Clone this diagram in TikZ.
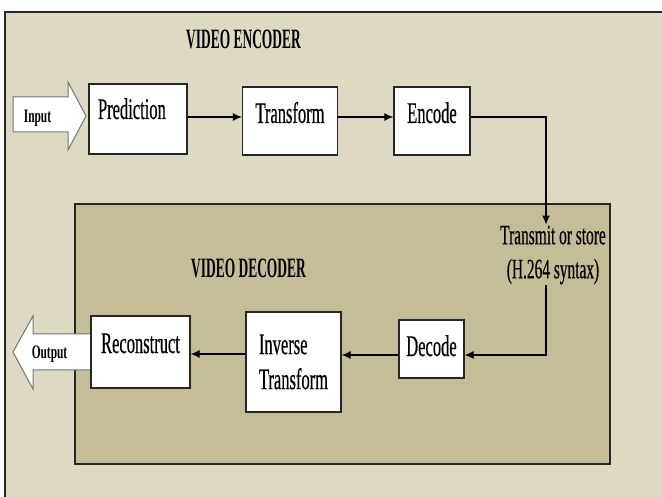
\documentclass[tikz,border=0pt]{standalone}
\usepackage{fontspec}
\setmainfont{Liberation Serif}
\newfontfamily\boxfont[FakeStretch=0.55,FakeBold=0.4]{Liberation Serif}
\newfontfamily\titlefont[FakeStretch=0.48]{Liberation Serif}
\newfontfamily\iofont[FakeStretch=0.6]{Liberation Serif}
\usetikzlibrary{arrows.meta}
\definecolor{outerbg}{HTML}{DDD9C3}
\definecolor{innerbg}{HTML}{C4BD97}
\begin{document}
\begin{tikzpicture}[x=1pt,y=-1pt,
  blk/.style={draw=black!85, line width=1.3pt, fill=white, inner sep=0pt,
    font=\boxfont\fontsize{30}{35}\selectfont},
  conn/.style={line width=1.2pt, -{Latex[length=9pt,width=8pt]}},
  titletext/.style={font=\titlefont\bfseries\fontsize{28}{32}\selectfont, inner sep=0pt},
  lbl/.style={font=\boxfont\fontsize{28}{34}\selectfont, align=center, inner sep=1pt},
  io/.style={font=\iofont\bfseries\fontsize{19}{22}\selectfont, inner sep=0pt},
  blockarrow/.style={draw=black!55, line width=1pt, fill=white, line join=miter},
  panel/.style={draw=black!85, line width=1.3pt}
]
\useasboundingbox (0,0) rectangle (662,497);
\fill[white] (0,0) rectangle (662,497);
\begin{scope}
  \clip (0,0) rectangle (662,497);
  \draw[panel, fill=outerbg] (5,12) rectangle (700,530);
\end{scope}
\draw[panel, fill=innerbg] (75,204) rectangle (610,464);

% titles
\node[titletext, anchor=base] (enct) at (243.5,49) {VIDEO ENCODER};
\node[titletext, anchor=base] (dect) at (248.5,278) {VIDEO DECODER};

% block arrows
\draw[blockarrow] (13,97) -- (68,97) -- (68,82) -- (86,116) -- (68,150) -- (68,132) -- (13,132) -- cycle;
\node[io, anchor=base] (inp) at (37.5,123) {Input};
\draw[blockarrow] (92,334) -- (33,334) -- (33,316) -- (13,352) -- (33,389) -- (33,370) -- (92,370) -- cycle;
\node[io, anchor=base] (outp) at (49.5,359) {Output};

% boxes
\node[blk, minimum width=98pt, minimum height=70pt, text height=20pt, text depth=20pt,
  text width=80pt, align=left] (pred) at (138,119) {Prediction};
\node[blk, minimum width=95pt, minimum height=68pt, text height=22pt, text depth=18pt] (trans) at (290,121) {Transform};
\node[blk, minimum width=76pt, minimum height=68pt, text height=22pt, text depth=18pt] (enc) at (432,121) {Encode};
\node[blk, minimum width=65pt, minimum height=58pt, text height=27pt, text depth=13pt] (dec) at (431.5,349) {Decode};
\node[blk, minimum width=95pt, minimum height=100pt, align=left] (inv) at (293.5,362) {Inverse\\Transform};
\node[blk, minimum width=99pt, minimum height=72pt, text height=21pt, text depth=19pt] (rec) at (140.5,352) {Reconstruct};

\node[lbl] (tx) at (553,255) {Transmit or store\\(H.264 syntax)};

% connectors
\draw[conn] ([yshift=2pt]pred.east) -- ([yshift=2pt]pred.east -| trans.west);
\draw[conn] ([yshift=4pt]trans.east) -- ([yshift=4pt]enc.west);
\draw[conn] ([yshift=4pt]enc.east) -| ([xshift=-7pt]tx.north);
\draw[conn] ([xshift=-7pt]tx.south) |- ([yshift=-6pt]dec.east);
\draw[conn] ([yshift=-6pt]dec.west) -- ([yshift=-6pt]dec.west -| inv.east);
\draw[conn] ([yshift=8pt]inv.west) -- ([yshift=8pt]inv.west -| rec.east);
\end{tikzpicture}
\end{document}
